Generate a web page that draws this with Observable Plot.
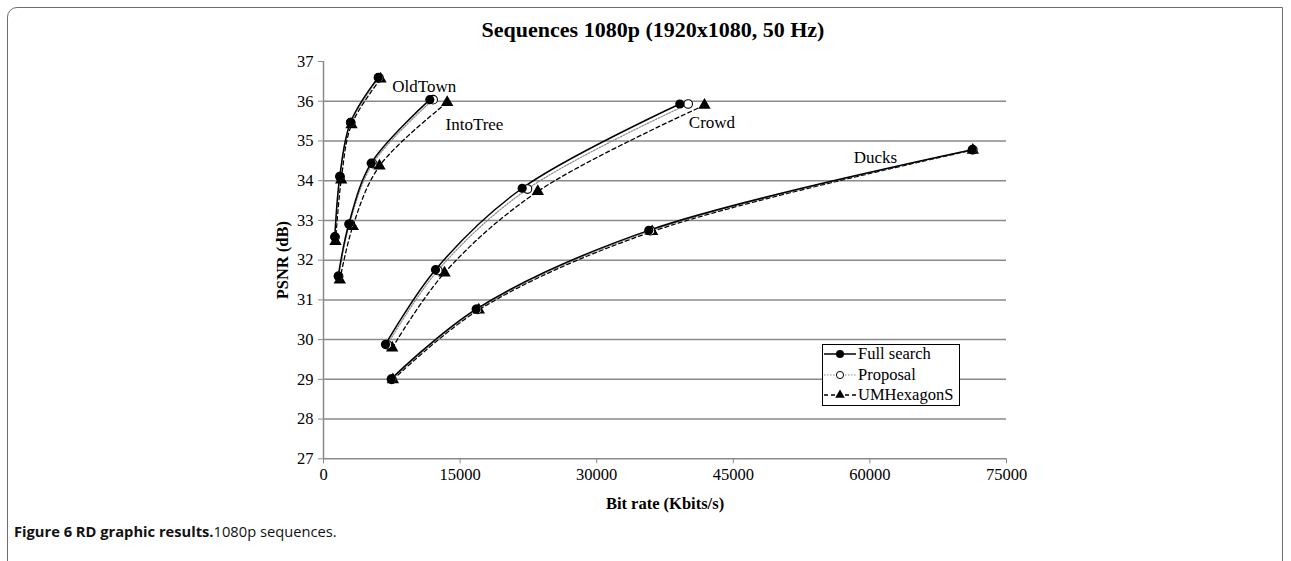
<!DOCTYPE html>
<html>
<head>
<meta charset="utf-8">
<script src="https://cdn.jsdelivr.net/npm/d3@7"></script>
<script src="https://cdn.jsdelivr.net/npm/@observablehq/plot@0.6"></script>
<style>
  html, body { margin: 0; padding: 0; background: #fff; }
  body { width: 1291px; height: 561px; position: relative; overflow: hidden; }
  #card { position: absolute; left: 7px; top: 7px; width: 1276px; height: 620px; border: 1px solid #6e6e6e; border-top-left-radius: 10px; box-sizing: border-box; }
  #title { position: absolute; top: 17px; left: 653px; transform: translateX(-50%); font-family: "Liberation Serif", serif; font-weight: bold; font-size: 22px; white-space: nowrap; color: #000; }
  #chart { position: absolute; left: 0; top: 40px; }
  #legend { position: absolute; left: 822px; top: 344px; width: 138px; height: 62px; border: 1px solid #000; background: #fff; box-sizing: border-box; font-family: "Liberation Serif", serif; font-size: 16.5px; }
  #legend .row { position: absolute; left: 0; height: 20px; display: flex; align-items: center; }
  #legend svg { display: block; }
  #caption { position: absolute; left: 14px; top: 521px; font-family: "Open Sans", sans-serif; font-size: 14.7px; color: #111; white-space: nowrap; }
  #caption b { font-weight: bold; }
</style>
</head>
<body>
<div id="card"></div>
<div id="title">Sequences 1080p (1920x1080, 50 Hz)</div>
<div id="chart"></div>
<div id="legend"></div>
<div id="caption"><b>Figure 6 RD graphic results.</b>1080p sequences.</div>
<script>
// ---- data ----
const sequences = ["OldTown", "IntoTree", "Crowd", "Ducks"];
const methods = ["Full search", "Proposal", "UMHexagonS"];

const oldTownRateFS   = [1241, 1790, 2965, 6006];
const oldTownPsnrFS   = [32.59, 34.11, 35.47, 36.60];
const oldTownRatePR   = [1270, 1820, 3000, 6090];
const oldTownPsnrPR   = [32.58, 34.10, 35.46, 36.59];
const oldTownRateUM   = [1318, 1944, 3075, 6259];
const oldTownPsnrUM   = [32.47, 34.02, 35.41, 36.56];

const intoTreeRateFS  = [1614, 2778, 5238, 11672];
const intoTreePsnrFS  = [31.60, 32.91, 34.44, 36.04];
const intoTreeRatePR  = [1660, 2850, 5400, 12040];
const intoTreePsnrPR  = [31.59, 32.90, 34.43, 36.04];
const intoTreeRateUM  = [1790, 3217, 6149, 13583];
const intoTreePsnrUM  = [31.50, 32.85, 34.37, 35.97];

const crowdRateFS     = [6808, 12298, 21818, 39124];
const crowdPsnrFS     = [29.88, 31.76, 33.81, 35.93];
const crowdRatePR     = [7000, 12551, 22400, 40046];
const crowdPsnrPR     = [29.87, 31.74, 33.79, 35.93];
const crowdRateUM     = [7544, 13287, 23531, 41836];
const crowdPsnrUM     = [29.79, 31.68, 33.73, 35.90];

const ducksRateFS     = [7434, 16767, 35720, 71231];
const ducksPsnrFS     = [29.01, 30.77, 32.75, 34.78];
const ducksRatePR     = [7500, 16900, 35900, 71300];
const ducksPsnrPR     = [29.00, 30.76, 32.74, 34.78];
const ducksRateUM     = [7620, 17053, 36093, 71300];
const ducksPsnrUM     = [28.99, 30.75, 32.72, 34.77];

const xTicks = [0, 15000, 30000, 45000, 60000, 75000];
const yTicks = [27, 28, 29, 30, 31, 32, 33, 34, 35, 36, 37];
const gridTicks = [28, 29, 30, 31, 32, 33, 34, 35, 36];

// label anchors (data units)
const labelNames = ["OldTown", "IntoTree", "Crowd", "Ducks"];
const labelRate  = [7544, 13396, 40112, 58230];
const labelPsnr  = [36.37, 35.41, 35.47, 34.59];

// ---- build table ----
const table = {
  OldTown:  [[oldTownRateFS, oldTownPsnrFS], [oldTownRatePR, oldTownPsnrPR], [oldTownRateUM, oldTownPsnrUM]],
  IntoTree: [[intoTreeRateFS, intoTreePsnrFS], [intoTreeRatePR, intoTreePsnrPR], [intoTreeRateUM, intoTreePsnrUM]],
  Crowd:    [[crowdRateFS, crowdPsnrFS], [crowdRatePR, crowdPsnrPR], [crowdRateUM, crowdPsnrUM]],
  Ducks:    [[ducksRateFS, ducksPsnrFS], [ducksRatePR, ducksPsnrPR], [ducksRateUM, ducksPsnrUM]]
};
const rows = [];
for (const s of sequences) {
  table[s].forEach(([r, p], mi) => {
    r.forEach((v, i) => rows.push({seq: s, method: methods[mi], rate: v, psnr: p[i]}));
  });
}
const fs = rows.filter(d => d.method === "Full search");
const pr = rows.filter(d => d.method === "Proposal");
const um = rows.filter(d => d.method === "UMHexagonS");
const labels = labelNames.map((n, i) => ({name: n, rate: labelRate[i], psnr: labelPsnr[i]}));

const gridColor = "#8a8a8a";
const serif = "Liberation Serif, Times New Roman, serif";

const chart = Plot.plot({
  width: 1291,
  height: 480,
  marginLeft: 323,
  marginRight: 285,
  marginTop: 21,
  marginBottom: 61.7,
  style: {fontFamily: serif, fontSize: "16.5px", color: "#000", background: "transparent", overflow: "visible"},
  x: {domain: [0, 75000]},
  y: {domain: [27, 37]},
  marks: [
    Plot.ruleY(gridTicks, {stroke: gridColor, strokeWidth: 1.5}),
    Plot.ruleX([0], {stroke: gridColor, strokeWidth: 1.5}),
    Plot.ruleY([27], {stroke: gridColor, strokeWidth: 1.5}),
    Plot.axisY({ticks: yTicks, tickSize: 5, tickPadding: 5, stroke: gridColor, tickFormat: d => String(d),
      label: "PSNR (dB)", labelAnchor: "center", labelArrow: false, labelOffset: 47,
      fontSize: 16.5, fontFamily: serif}),
    Plot.axisX({ticks: xTicks, tickSize: 5, tickPadding: 4, stroke: gridColor, tickFormat: d => String(d),
      label: "Bit rate (Kbits/s)", labelAnchor: "center", labelArrow: false, labelOffset: 50,
      fontSize: 16.5, fontFamily: serif}),
    Plot.line(um, {x: "rate", y: "psnr", z: "seq", curve: "catmull-rom", stroke: "#000", strokeWidth: 1.3, strokeDasharray: "4,3"}),
    Plot.line(pr, {x: "rate", y: "psnr", z: "seq", curve: "catmull-rom", stroke: "#8a8a8a", strokeWidth: 1.2, strokeDasharray: "1.5,1.5"}),
    Plot.line(fs, {x: "rate", y: "psnr", z: "seq", curve: "catmull-rom", stroke: "#000", strokeWidth: 1.5}),
    Plot.dot(um, {x: "rate", y: "psnr", symbol: "triangle", r: 4.6, fill: "#000", stroke: "none"}),
    Plot.dot(pr, {x: "rate", y: "psnr", symbol: "circle", r: 4.3, fill: "#fff", stroke: "#000", strokeWidth: 1.1}),
    Plot.dot(fs, {x: "rate", y: "psnr", symbol: "circle", r: 4.6, fill: "#000", stroke: "none"}),
    Plot.text(labels, {x: "rate", y: "psnr", text: "name", textAnchor: "start", fontSize: 17, fontFamily: serif, fill: "#000"})
  ]
});
chart.querySelectorAll("text").forEach(t => {
  if (t.textContent === "PSNR (dB)" || t.textContent === "Bit rate (Kbits/s)") t.setAttribute("font-weight", "bold");
});
document.getElementById("chart").appendChild(chart);

// ---- legend ----
const legend = document.getElementById("legend");
const legendStyles = [
  {dash: null, color: "#000", sw: 1.5, sym: "fill-circle"},
  {dash: "1.5,1.5", color: "#8a8a8a", sw: 1.2, sym: "open-circle"},
  {dash: "4,3", color: "#000", sw: 1.3, sym: "triangle"}
];
methods.forEach((m, i) => {
  const st = legendStyles[i];
  const row = document.createElement("div");
  row.className = "row";
  row.style.top = (i * 20.5 - 1) + "px";
  const s = d3.create("svg").attr("width", 34).attr("height", 20);
  s.append("line").attr("x1", 1).attr("x2", 33).attr("y1", 10).attr("y2", 10)
    .attr("stroke", st.color).attr("stroke-width", st.sw).attr("stroke-dasharray", st.dash);
  if (st.sym === "fill-circle") s.append("circle").attr("cx", 17).attr("cy", 10).attr("r", 4).attr("fill", "#000");
  if (st.sym === "open-circle") s.append("circle").attr("cx", 17).attr("cy", 10).attr("r", 3.6).attr("fill", "#fff").attr("stroke", "#000");
  if (st.sym === "triangle") s.append("path").attr("d", d3.symbol(d3.symbolTriangle, 40)()).attr("transform", "translate(17,10)").attr("fill", "#000");
  row.appendChild(s.node());
  const t = document.createElement("span");
  t.textContent = m;
  t.style.marginLeft = "1px";
  row.appendChild(t);
  legend.appendChild(row);
});
</script>
</body>
</html>
